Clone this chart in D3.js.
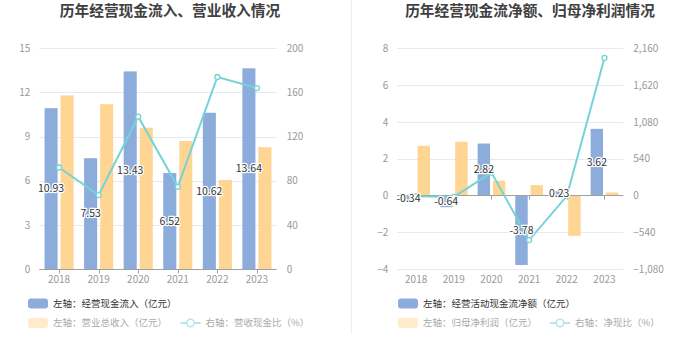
<!DOCTYPE html>
<html><head><meta charset="utf-8">
<script src="https://cdn.jsdelivr.net/npm/d3@7"></script>
<style>
html,body{margin:0;padding:0;background:#fff;}
svg{display:block;font-family:"Noto Sans CJK SC","Noto Sans",sans-serif;}
</style></head>
<body>
<svg id="c" width="700" height="359"></svg>
<script>
// ---- data ----
const years = ["2018","2019","2020","2021","2022","2023"];
// left chart
const cashInflow = [10.93, 7.53, 13.43, 6.52, 10.62, 13.64];
const revenue = [11.8, 11.2, 9.6, 8.7, 6.05, 8.28];
const revCashRatio = [92, 67, 138, 74.5, 174, 164];
const leftTicksL = [0, 3, 6, 9, 12, 15];
const leftTicksR = [0, 40, 80, 120, 160, 200];
// right chart
const netCash = [-0.34, -0.64, 2.82, -3.78, 0.23, 3.62];
const netProfit = [2.7, 2.92, 0.8, 0.56, -2.2, 0.16];
const netCashRatio = [-12, -22, 335, -655, -10, 2018];
const rightTicksL = [-4, -2, 0, 2, 4, 6, 8];
const rightTicksR = [-1080, -540, 0, 540, 1080, 1620, 2160];

const BLUE = "#8cacdb", ORANGE = "#ffd593", LINE = "#76d3d7";
const svg = d3.select("#c");

// divider
svg.append("line").attr("x1",351.5).attr("x2",351.5).attr("y1",0).attr("y2",334)
  .attr("stroke","#eeeeee").attr("stroke-width",1);

function drawChart(o){
  const g = svg.append("g");
  const x = d3.scaleBand().domain(years).range([o.x0, o.x1]);
  const yL = d3.scaleLinear().domain(o.domL).range([269, 48.3]);
  const yR = d3.scaleLinear().domain(o.domR).range([269, 48.3]);
  const fmt = d3.format(",");

  // title
  g.append("text").attr("x", o.tx).attr("y", 16).attr("text-anchor","middle")
    .attr("font-size", 14.7).attr("font-weight","bold").attr("fill","#404040").text(o.title);

  // grid
  g.selectAll(".grid").data(o.ticksL).join("line")
    .attr("x1", o.x0).attr("x2", o.x1)
    .attr("y1", d => Math.round(yL(d))+0.5).attr("y2", d => Math.round(yL(d))+0.5)
    .attr("stroke", "#e4e9f3").attr("stroke-width", 1);

  // left axis
  const axL = g.append("g").attr("transform", `translate(${o.x0 - 6},0)`)
    .call(d3.axisLeft(yL).tickValues(o.ticksL).tickSize(0).tickFormat(fmt));
  axL.select(".domain").remove();
  axL.selectAll("text").attr("font-size", 10).attr("fill", "#999").attr("font-family","Noto Sans CJK SC");
  // right axis
  const axR = g.append("g").attr("transform", `translate(${o.x1 + 7},0)`)
    .call(d3.axisRight(yR).tickValues(o.ticksR).tickSize(0).tickFormat(fmt));
  axR.select(".domain").remove();
  axR.selectAll("text").attr("font-size", 10).attr("fill", "#999").attr("font-family","Noto Sans CJK SC");

  // bars
  const bw = x.bandwidth() * 0.33, gap = x.bandwidth() * 0.075;
  const cx = d => x(d) + x.bandwidth()/2;
  const y0 = yL(0);
  g.selectAll(".b1").data(o.bar1).join("rect")
    .attr("x", (d,i) => cx(years[i]) - gap/2 - bw)
    .attr("width", bw)
    .attr("y", d => Math.min(yL(d), y0))
    .attr("height", d => Math.abs(yL(d) - y0))
    .attr("fill", BLUE);
  g.selectAll(".b2").data(o.bar2).join("rect")
    .attr("x", (d,i) => cx(years[i]) + gap/2)
    .attr("width", bw)
    .attr("y", d => Math.min(yL(d), y0))
    .attr("height", d => Math.abs(yL(d) - y0))
    .attr("fill", ORANGE);

  // x axis line at zero
  g.append("line").attr("x1", o.x0).attr("x2", o.x1)
    .attr("y1", Math.round(y0)+0.5).attr("y2", Math.round(y0)+0.5)
    .attr("stroke", "#a0a0a0").attr("stroke-width", 1);
  g.selectAll(".tk").data(years).join("line")
    .attr("x1", d => Math.round(cx(d))+0.5).attr("x2", d => Math.round(cx(d))+0.5)
    .attr("y1", Math.round(y0)+0.5).attr("y2", Math.round(y0)+4.5)
    .attr("stroke", "#a0a0a0");
  g.selectAll(".xl").data(years).join("text")
    .attr("x", d => cx(d)).attr("y", 283).attr("text-anchor","middle")
    .attr("font-size", 10).attr("fill", "#999").text(d => d);

  // line
  const line = d3.line().x((d,i) => cx(years[i])).y(d => yR(d));
  g.append("path").datum(o.line).attr("d", line).attr("fill","none")
    .attr("stroke", LINE).attr("stroke-width", 2);
  g.selectAll(".pt").data(o.line).join("circle")
    .attr("cx", (d,i) => cx(years[i])).attr("cy", d => yR(d)).attr("r", 2.5)
    .attr("fill", "#fff").attr("stroke", LINE).attr("stroke-width", 1.3);

  // labels (centre of blue bars)
  g.selectAll(".lb").data(o.bar1).join("text")
    .attr("x", (d,i) => cx(years[i]) - gap/2 - bw/2)
    .attr("y", d => (yL(d) + y0)/2).attr("dy", "0.36em")
    .attr("text-anchor", "middle").attr("font-size", 10.5)
    .attr("fill", "#333").attr("stroke", "#fff").attr("stroke-width", 2.5)
    .attr("paint-order", "stroke").attr("stroke-linejoin","round")
    .text(d => d.toFixed(2));

  // legend
  const lx = o.lx;
  g.append("rect").attr("x", lx).attr("y", 298.5).attr("width", 20).attr("height", 10)
    .attr("rx", 3).attr("fill", BLUE);
  g.append("text").attr("x", lx + 25).attr("y", 303.5).attr("dy","0.35em")
    .attr("font-size", 9.5).attr("fill", "#333").text(o.leg1);
  g.append("rect").attr("x", lx).attr("y", 318).attr("width", 20).attr("height", 10)
    .attr("rx", 3).attr("fill", "#ffeacb");
  g.append("text").attr("x", lx + 25).attr("y", 323).attr("dy","0.35em")
    .attr("font-size", 9.5).attr("fill", "#aaa").text(o.leg2);
  g.append("line").attr("x1", o.l3x).attr("x2", o.l3x + 20).attr("y1", 323).attr("y2", 323)
    .attr("stroke", "#b3e7ea").attr("stroke-width", 2);
  g.append("circle").attr("cx", o.l3x + 10).attr("cy", 323).attr("r", 3.8)
    .attr("fill", "#fff").attr("stroke", "#b3e7ea").attr("stroke-width", 1.5);
  g.append("text").attr("x", o.l3x + 25).attr("y", 323).attr("dy","0.35em")
    .attr("font-size", 9.5).attr("fill", "#aaa").text(o.leg3);
}

drawChart({
  x0: 39.3, x1: 276.7, domL: [0, 15], domR: [0, 200],
  ticksL: leftTicksL, ticksR: leftTicksR,
  bar1: cashInflow, bar2: revenue, line: revCashRatio,
  title: "历年经营现金流入、营业收入情况", tx: 170,
  lx: 28, l3x: 180.5,
  leg1: "左轴：经营现金流入（亿元）", leg2: "左轴：营业总收入（亿元）", leg3: "右轴：营收现金比（%）"
});
drawChart({
  x0: 397.3, x1: 623.3, domL: [-4, 8], domR: [-1080, 2160],
  ticksL: rightTicksL, ticksR: rightTicksR,
  bar1: netCash, bar2: netProfit, line: netCashRatio,
  title: "历年经营现金流净额、归母净利润情况", tx: 530,
  lx: 398, l3x: 550,
  leg1: "左轴：经营活动现金流净额（亿元）", leg2: "左轴：归母净利润（亿元）", leg3: "右轴：净现比（%）"
});
</script>
</body></html>
